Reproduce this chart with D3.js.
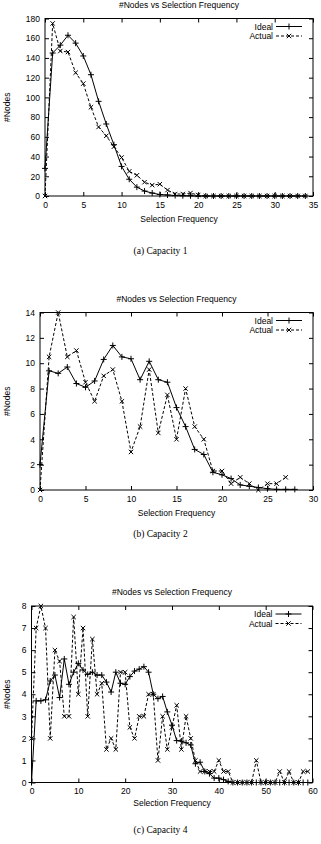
<!DOCTYPE html>
<html>
<head>
<meta charset="utf-8">
<script src="https://cdn.jsdelivr.net/npm/d3@7"></script>
<style>
  html, body { margin: 0; padding: 0; background: #fff; }
  svg { display: block; }
  .tick text { font-family: 'Liberation Sans', Arial, sans-serif; font-size: 8.5px; fill: #000; }
</style>
</head>
<body>
<div id="page"></div>
<script>
/* #Nodes vs Selection Frequency — three capacity panels */

// values indexed by selection frequency 0, 1, 2, ...
const idealCap1 = [28, 145, 153, 163, 155, 142, 123, 96, 73, 52, 30, 17, 9, 5, 3, 1.5, 1, 0.5, 0.3, 0.2,
    0, 0, 0, 0, 0, 0, 0, 0, 0, 0, 0, 0, 0, 0, 0];
const actualCap1 = [0, 175, 147, 146, 125, 114, 90, 70, 61, 50, 39, 25, 21, 14, 11, 12, 6, 2, 2, 3, 1,
    0, 0, 0, 0, 0, 0, 0, 0, 0, 0, 0, 0, 0, 0];

const idealCap2 = [2, 9.4, 9.2, 9.7, 8.4, 8.1, 8.6, 10.3, 11.4, 10.5, 10.35, 8.7, 10.15, 8.7, 8.5, 6.5, 5.0,
    3.2, 2.8, 1.4, 1.2, 0.9, 0.4, 0.3, 0.2, 0.1, 0.05, 0.05, 0.05];
const actualCap2 = [0, 10.5, 14, 10.5, 11, 8.5, 7, 9, 9.5, 7, 3, 5, 9.5, 4.5, 7.5, 4, 8, 5, 4, 1.5, 1.5,
    0.5, 1, 0.5, 0, 0.5, 0.5, 1];

const idealCap4 = [0, 3.7, 3.7, 3.75, 4.6, 4.87, 3.85, 5.6, 4.45, 5.0, 5.4, 5.1, 4.9, 5.0, 4.87, 4.87, 4.55,
    4.1, 5.0, 4.5, 4.45, 4.8, 5.05, 5.14, 5.25, 5.0, 4.0, 3.8, 3.9, 3.2, 2.6, 1.9, 1.88, 1.8, 1.7, 0.85, 0.92,
    0.5, 0.4, 0.2, 0.2, 0.13, 0.05, 0, 0, 0, 0, 0, 0, 0, 0, 0, 0, 0, 0, 0, 0, 0, 0, 0];
const actualCap4 = [2, 7, 8, 7, 2, 6, 5.5, 3, 3, 7.5, 4, 7, 3, 6.5, 4, 4.5, 1.5, 2, 1.5, 5, 5, 2.5, 2, 3, 3,
    4, 4, 1, 3, 1.5, 2.5, 3.5, 1.5, 3, 2, 1, 0.5, 0.5, 0.5, 0.5, 1, 0.5, 0.5, 0, 0, 0, 0, 0, 1, 0, 0, 0, 0,
    0.5, 0, 0.5, 0, 0, 0.5, 0.5];

const cap1XTicks = [0, 5, 10, 15, 20, 25, 30, 35];
const cap1YTicks = [0, 20, 40, 60, 80, 100, 120, 140, 160, 180];
const cap2XTicks = [0, 5, 10, 15, 20, 25, 30];
const cap2YTicks = [0, 2, 4, 6, 8, 10, 12, 14];
const cap4XTicks = [0, 10, 20, 30, 40, 50, 60];
const cap4YTicks = [0, 1, 2, 3, 4, 5, 6, 7, 8];

const seriesNames = ['Ideal', 'Actual'];
const chartTitle = '#Nodes vs Selection Frequency';
const xTitle = 'Selection Frequency';
const yTitle = '#Nodes';

const W = 321, H = 844;
const SANS = "'Liberation Sans', Arial, sans-serif";
const SERIF = "'Liberation Serif', 'Times New Roman', serif";

const svg = d3.select('#page').append('svg')
    .attr('width', W).attr('height', H)
    .attr('viewBox', `0 0 ${W} ${H}`);
svg.append('rect').attr('width', W).attr('height', H).attr('fill', '#fff');

function plusPath(cx, cy, s) {
    return `M${cx - s},${cy}H${cx + s}M${cx},${cy - s}V${cy + s}`;
}
function crossPath(cx, cy, s) {
    return `M${cx - s},${cy - s}L${cx + s},${cy + s}M${cx - s},${cy + s}L${cx + s},${cy - s}`;
}

function drawChart(cfg) {
    const g = svg.append('g');
    const x = d3.scaleLinear().domain([cfg.xTicks[0], cfg.xTicks[cfg.xTicks.length - 1]]).range([cfg.left, cfg.right]);
    const y = d3.scaleLinear().domain([cfg.yTicks[0], cfg.yTicks[cfg.yTicks.length - 1]]).range([cfg.bottom, cfg.top]);
    const midX = (cfg.left + cfg.right) / 2;

    // axes with inward ticks on all four sides
    const tick = 4;
    g.append('g').attr('transform', `translate(0,${cfg.bottom})`)
        .call(d3.axisBottom(x).tickValues(cfg.xTicks).tickSize(-tick).tickPadding(5.5));
    g.append('g').attr('transform', `translate(0,${cfg.top})`)
        .call(d3.axisTop(x).tickValues(cfg.xTicks).tickSize(-tick).tickFormat(''));
    g.append('g').attr('transform', `translate(${cfg.left},0)`)
        .call(d3.axisLeft(y).tickValues(cfg.yTicks).tickSize(-tick).tickPadding(5));
    g.append('g').attr('transform', `translate(${cfg.right},0)`)
        .call(d3.axisRight(y).tickValues(cfg.yTicks).tickSize(-tick).tickFormat(''));
    g.selectAll('.domain').remove();
    g.selectAll('.tick line').attr('stroke', '#000').attr('stroke-width', 1);

    g.append('rect')
        .attr('x', cfg.left).attr('y', cfg.top)
        .attr('width', cfg.right - cfg.left).attr('height', cfg.bottom - cfg.top)
        .attr('fill', 'none').attr('stroke', '#000').attr('stroke-width', 1);

    // titles
    g.append('text').attr('x', midX).attr('y', cfg.titleY)
        .attr('text-anchor', 'middle').attr('font-family', SANS).attr('font-size', '8.5px')
        .text(chartTitle);
    g.append('text').attr('x', midX).attr('y', cfg.xTitleY)
        .attr('text-anchor', 'middle').attr('font-family', SANS).attr('font-size', '8.5px')
        .text(xTitle);
    g.append('text')
        .attr('transform', `translate(10,${(cfg.top + cfg.bottom) / 2}) rotate(-90)`)
        .attr('text-anchor', 'middle').attr('font-family', SANS).attr('font-size', '8.5px')
        .text(yTitle);
    g.append('text').attr('x', W / 2).attr('y', cfg.captionY)
        .attr('text-anchor', 'middle').attr('font-family', SERIF).attr('font-size', '9.5px')
        .text(cfg.caption);

    const line = d3.line().x((d, i) => x(i)).y(d => y(d));
    const styles = [
        { data: cfg.ideal, dash: null, marker: plusPath, size: 3 },
        { data: cfg.actual, dash: '3,2', marker: crossPath, size: 2.2 }
    ];

    styles.forEach(function(s) {
        g.append('path')
            .attr('d', line(s.data))
            .attr('fill', 'none').attr('stroke', '#000').attr('stroke-width', 1)
            .attr('stroke-dasharray', s.dash);
        g.append('path')
            .attr('d', s.data.map((d, i) => s.marker(x(i), y(d), s.size)).join(''))
            .attr('fill', 'none').attr('stroke', '#000').attr('stroke-width', 1);
    });

    // legend
    styles.forEach(function(s, i) {
        const ly = cfg.top + 8 + i * 9.5;
        g.append('text').attr('x', cfg.right - 40).attr('y', ly + 3)
            .attr('text-anchor', 'end').attr('font-family', SANS).attr('font-size', '8.5px')
            .text(seriesNames[i]);
        g.append('line')
            .attr('x1', cfg.right - 37).attr('x2', cfg.right - 11)
            .attr('y1', ly).attr('y2', ly)
            .attr('stroke', '#000').attr('stroke-width', 1)
            .attr('stroke-dasharray', s.dash);
        g.append('path')
            .attr('d', s.marker(cfg.right - 24, ly, s.size))
            .attr('fill', 'none').attr('stroke', '#000').attr('stroke-width', 1);
    });
}

drawChart({
    ideal: idealCap1, actual: actualCap1, xTicks: cap1XTicks, yTicks: cap1YTicks,
    left: 45, right: 313, top: 18.5, bottom: 196,
    titleY: 8, xTitleY: 222, captionY: 254, caption: '(a) Capacity 1'
});
drawChart({
    ideal: idealCap2, actual: actualCap2, xTicks: cap2XTicks, yTicks: cap2YTicks,
    left: 40, right: 313, top: 312.5, bottom: 490,
    titleY: 302, xTitleY: 516, captionY: 537, caption: '(b) Capacity 2'
});
drawChart({
    ideal: idealCap4, actual: actualCap4, xTicks: cap4XTicks, yTicks: cap4YTicks,
    left: 31.5, right: 312.5, top: 606, bottom: 782.5,
    titleY: 595, xTitleY: 806, captionY: 833, caption: '(c) Capacity 4'
});
</script>
</body>
</html>
